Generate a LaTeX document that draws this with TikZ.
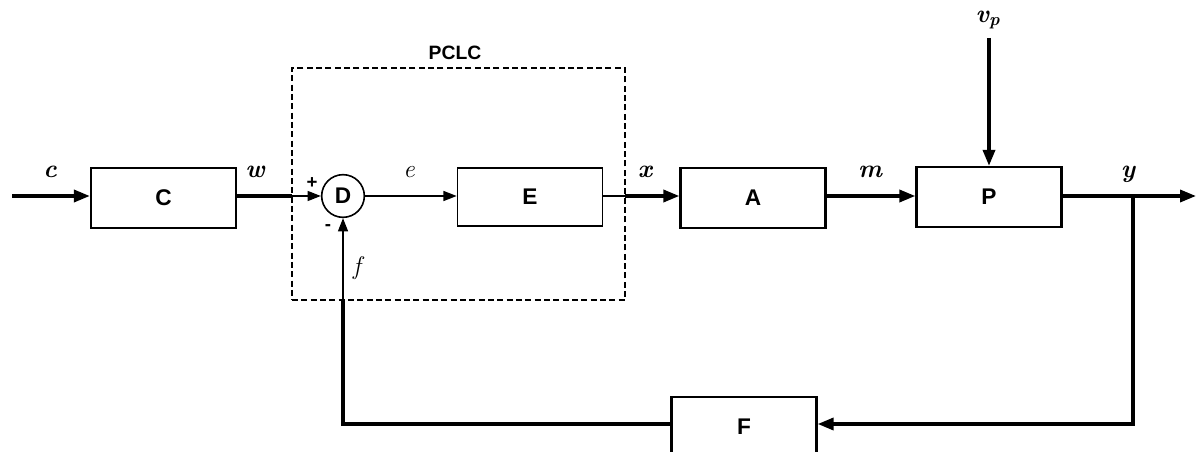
\documentclass[tikz,border=0pt]{standalone}
\usepackage{fontspec}
\newfontfamily\arial{Liberation Sans}
\usetikzlibrary{arrows.meta}
\begin{document}
\begin{tikzpicture}[x=0.75pt,y=-0.75pt,
  blk/.style={draw, line width=1.7pt, minimum width=108.75pt, minimum height=45pt, inner sep=0pt, font=\arial\bfseries\fontsize{17}{19}\selectfont},
  thk/.style={line width=2.6pt},
  thn/.style={line width=1.2pt},
  arr/.style={-{Triangle[length=12pt,width=9pt]}},
  sarr/.style={-{Triangle[length=10pt,width=7.5pt]}},
  lab/.style={font=\bfseries\itshape\fontsize{19}{21}\selectfont, inner sep=0pt},
  ilab/.style={font=\itshape\fontsize{19}{21}\selectfont, inner sep=0pt},
  sgn/.style={font=\arial\bfseries\fontsize{14}{16}\selectfont, inner sep=0pt}]
\useasboundingbox (0,0) rectangle (1196,452);
\clip (0,0) rectangle (1196,452);
% dashed PCLC box
\node[draw, line width=1.7pt, dash pattern=on 4.5pt off 2.5pt, minimum width=249.75pt, minimum height=174pt, inner sep=0pt] (pclc) at (458.5,184) {};
\node[font=\arial\bfseries\fontsize{14.5}{16}\selectfont, inner sep=0pt] (pclcl) at (455,53) {PCLC};
% blocks
\node[blk] (C) at (163.5,198) {C};
\node[blk, line width=1.2pt, minimum height=43.5pt] (E) at (530,197) {E};
\node[blk] (A) at (753,198) {A};
\node[blk] (P) at (989,197) {P};
\node[blk] (F) at (744,427) {F};
\node[draw, circle, line width=1.2pt, minimum size=32pt, inner sep=0pt, font=\arial\bfseries\fontsize{17}{19}\selectfont] (D) at (343,196) {D};
% coordinates
\coordinate (in) at (12,196);
\coordinate (cw) at (292,196);
\coordinate (ex) at (625,196);
\coordinate (vp) at (989,38);
\coordinate (yb) at (1133,196);
\coordinate (out) at (1196,196);
\coordinate (fb1) at (1133,424);
\coordinate (fb2) at (343,424);
\coordinate (fb3) at (343,300);
% connectors
\draw[thk, arr] (in) -- (in -| C.west);
\draw[thk] (C.east |- cw) -- (cw);
\draw[thn, sarr] (cw) -- (D.west);
\draw[thn, sarr] (D.east) -- (D.east -| E.west);
\draw[thn] (E.east |- ex) -- (ex);
\draw[thk, arr] (ex) -- (ex -| A.west);
\draw[thk, arr] (A.east |- yb) -- (yb -| P.west);
\draw[thk, arr] (vp) -- (P.north);
\draw[thk] (P.east |- yb) -- (yb);
\draw[thk, arr] (yb) -- (out);
\draw[thk, arr] (yb) -- (fb1) -- (fb1 -| F.east);
\draw[thk] (F.west |- fb2) -- (fb2) -- (fb3);
\draw[thn, sarr] (fb3) -- (D.south);
% labels
\node[lab] (lc) at (50,172) {c};
\node[lab] (lw) at (255,172) {w};
\node[sgn] (lplus) at (312,183) {+};
\node[sgn] (lminus) at (328,228) {-};
\node[ilab] (le) at (409,172) {e};
\node[lab] (lx) at (645,172) {x};
\node[lab] (lm) at (870,172) {m};
\node[lab] (ly) at (1128,174) {y};
\node[ilab] (lf) at (357,268) {f};
\node[lab] (lvp) at (988,20) {v\textsubscript{p}};
\end{tikzpicture}
\end{document}
